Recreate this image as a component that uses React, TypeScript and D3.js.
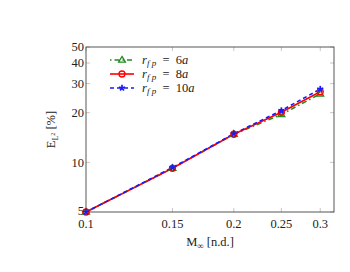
import { useEffect, useRef } from 'react';
import * as d3 from 'd3';

// Mach numbers (x) and L2 error in percent for each far-field radius
const machValues = [0.1, 0.15, 0.2, 0.25, 0.3];
const errR6 = [5.0, 9.2, 14.8, 19.5, 26.0];
const errR8 = [5.0, 9.2, 14.8, 20.1, 26.8];
const errR10 = [5.0, 9.3, 14.9, 20.6, 27.8];

const xTicks = [0.1, 0.15, 0.2, 0.25, 0.3];
const yTicks = [5, 10, 20, 30, 40, 50];

const seriesNames = ['6', '8', '10'];

const SERIES = [
  { name: seriesNames[0], values: errR6, color: '#1e8c1e', dash: '1.5,3,5,3', marker: 'triangle' },
  { name: seriesNames[1], values: errR8, color: '#ff0000', dash: null, marker: 'circle' },
  { name: seriesNames[2], values: errR10, color: '#1a1aff', dash: '4,3', marker: 'star' },
];

const FONT = '"Liberation Serif", "DejaVu Serif", serif';

export default function App() {
  const svgRef = useRef<SVGSVGElement>(null);

  useEffect(() => {
    if (!svgRef.current) return;
    const root = d3.select(svgRef.current);
    root.selectAll('*').remove();

    const left = 86;
    const right = 334;
    const top = 47;
    const bottom = 212;

    const x = d3.scaleLog().domain([0.1, 0.32]).range([left, right]);
    const y = d3.scaleLog().domain([5, 50]).range([bottom, top]);

    // tick marks (inside, both sides)
    const tickColor = '#b8b8b8';
    const g = root.append('g');
    yTicks.forEach((t) => {
      g.append('line').attr('x1', left).attr('x2', left + 4).attr('y1', y(t)).attr('y2', y(t))
        .attr('stroke', tickColor).attr('stroke-width', 0.8);
      g.append('line').attr('x1', right - 4).attr('x2', right).attr('y1', y(t)).attr('y2', y(t))
        .attr('stroke', tickColor).attr('stroke-width', 0.8);
      g.append('text').attr('x', left - 2).attr('y', y(t)).attr('dy', t === 5 ? '0.25em' : '0.35em')
        .attr('text-anchor', 'end').attr('font-family', FONT).attr('font-size', 12.5)
        .attr('fill', '#222').text(t);
    });
    xTicks.forEach((t) => {
      g.append('line').attr('x1', x(t)).attr('x2', x(t)).attr('y1', bottom).attr('y2', bottom - 4)
        .attr('stroke', tickColor).attr('stroke-width', 0.8);
      g.append('line').attr('x1', x(t)).attr('x2', x(t)).attr('y1', top).attr('y2', top + 4)
        .attr('stroke', tickColor).attr('stroke-width', 0.8);
      g.append('text').attr('x', x(t)).attr('y', bottom + 16)
        .attr('text-anchor', 'middle').attr('font-family', FONT).attr('font-size', 12.5)
        .attr('fill', '#222').text(t);
    });

    // frame
    root.append('rect').attr('x', left).attr('y', top).attr('width', right - left)
      .attr('height', bottom - top).attr('fill', 'none').attr('stroke', '#444').attr('stroke-width', 0.9);

    // axis labels
    const xl = root.append('text').attr('x', (left + right) / 2).attr('y', 246)
      .attr('text-anchor', 'middle').attr('font-family', FONT).attr('font-size', 12.5).attr('fill', '#222');
    xl.append('tspan').text('M');
    xl.append('tspan').attr('dy', 3).attr('font-size', 9).text('∞');
    xl.append('tspan').attr('dy', -3).text(' [n.d.]');

    const yl = root.append('text')
      .attr('transform', `translate(55,${(top + bottom) / 2}) rotate(-90)`)
      .attr('text-anchor', 'middle').attr('font-family', FONT).attr('font-size', 12.5).attr('fill', '#222');
    yl.append('tspan').text('E');
    yl.append('tspan').attr('dy', 3).attr('font-size', 8).text('L');
    yl.append('tspan').attr('dy', -3).attr('font-size', 6).text('2');
    yl.append('tspan').attr('dy', 0).text(' [%]');

    const line = d3.line<number>()
      .x((_, i) => x(machValues[i]))
      .y((d) => y(d));

    const drawMarker = (sel: any, type: string, cx: number, cy: number, color: string) => {
      if (type === 'circle') {
        sel.append('circle').attr('cx', cx).attr('cy', cy).attr('r', 3)
          .attr('fill', 'none').attr('stroke', color).attr('stroke-width', 1.3);
      } else if (type === 'triangle') {
        const s = 3.6;
        sel.append('path')
          .attr('d', `M${cx},${cy - s} L${cx + s * 0.95},${cy + s * 0.6} L${cx - s * 0.95},${cy + s * 0.6} Z`)
          .attr('fill', 'none').attr('stroke', color).attr('stroke-width', 1.3);
      } else {
        const s = 3.2;
        for (let k = 0; k < 5; k++) {
          const a = (k * 72 - 90) * Math.PI / 180;
          sel.append('line').attr('x1', cx).attr('y1', cy)
            .attr('x2', cx + s * Math.cos(a)).attr('y2', cy + s * Math.sin(a))
            .attr('stroke', color).attr('stroke-width', 1.7);
        }
      }
    };

    const plot = root.append('g');
    SERIES.forEach((s) => {
      plot.append('path').datum(s.values).attr('d', line).attr('fill', 'none')
        .attr('stroke', s.color).attr('stroke-width', 1.6)
        .attr('stroke-dasharray', s.dash);
    });
    SERIES.forEach((s) => {
      const mg = plot.append('g');
      s.values.forEach((v, i) => drawMarker(mg, s.marker, x(machValues[i]), y(v), s.color));
    });

    // legend
    const lg = root.append('g');
    SERIES.forEach((s, i) => {
      const ly = 60 + i * 14;
      lg.append('line').attr('x1', 110).attr('x2', 134).attr('y1', ly).attr('y2', ly)
        .attr('stroke', s.color).attr('stroke-width', 1.6).attr('stroke-dasharray', s.dash);
      drawMarker(lg, s.marker, 122, ly, s.color);
      const t = lg.append('text').attr('x', 142).attr('y', ly).attr('dy', '0.3em')
        .attr('font-family', FONT).attr('font-size', 12.5).attr('font-style', 'italic').attr('fill', '#222');
      t.append('tspan').text('r');
      t.append('tspan').attr('dy', 2.5).attr('font-size', 9).text('f p');
      t.append('tspan').attr('dy', -2.5).attr('font-style', 'normal').text('\u2002=\u2002');
      t.append('tspan').attr('font-style', 'normal').text(s.name);
      t.append('tspan').text('a');
    });
  }, []);

  return (
    <svg
      ref={svgRef}
      width={350}
      height={272}
      style={{ position: 'absolute', left: 0, top: 0, background: '#fff' }}
    />
  );
}
